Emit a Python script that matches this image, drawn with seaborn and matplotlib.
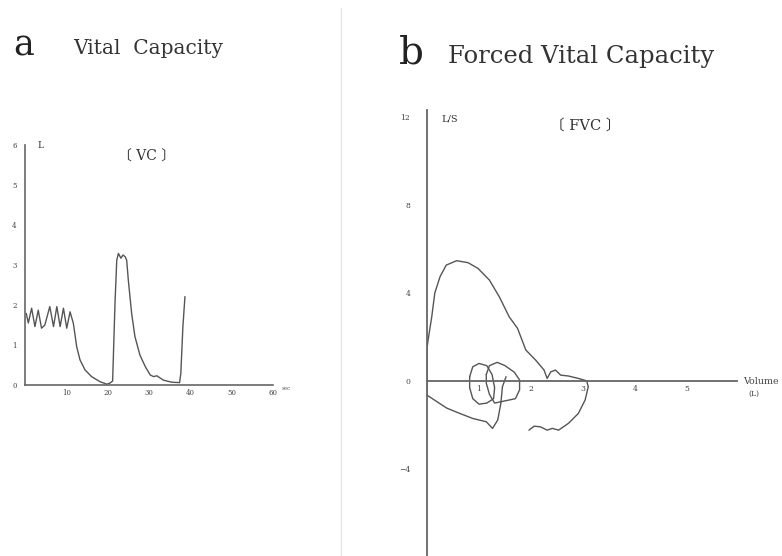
import pandas as pd
import matplotlib.pyplot as plt
import seaborn as sns
from matplotlib.lines import Line2D

sns.set_style("white")
plt.rcParams['font.family'] = ['DejaVu Serif', 'Noto Sans CJK JP']

# panel a: vital capacity trace (time in sec, volume in L)
vc_time = [0.3, 0.8, 1.6, 2.4, 3.2, 4.0, 4.8, 6.0, 6.9, 7.7, 8.5, 9.3, 10.1, 10.9,
           11.7, 12.5, 13.3, 14.5, 16.1, 18.2, 19.8, 20.6, 21.2, 21.5, 21.8, 22.2,
           22.6, 23.2, 23.7, 24.2, 24.6, 25.0, 25.8, 26.6, 27.8, 29.1, 30.3, 31.1,
           31.9, 33.5, 35.5, 37.4, 37.7, 38.2, 38.7]
vc_volume = [1.79, 1.55, 1.92, 1.46, 1.87, 1.42, 1.5, 1.96, 1.46, 1.96, 1.46, 1.92,
             1.42, 1.83, 1.54, 0.96, 0.63, 0.38, 0.21, 0.08, 0.02, 0.05, 0.1, 1.12,
             2.12, 3.12, 3.29, 3.17, 3.25, 3.21, 3.12, 2.62, 1.79, 1.21, 0.75, 0.46,
             0.25, 0.21, 0.23, 0.12, 0.07, 0.06, 0.29, 1.46, 2.21]

# panel b: flow-volume loop (volume in L, flow in L/S)
fvc_volume = [0, 0, 0, 0.03, 0.09, 0.15, 0.25, 0.37, 0.57, 0.79, 0.98, 1.2, 1.39, 1.58,
              1.74, 1.9, 2.09, 2.25, 2.31, 2.38, 2.47, 2.57, 2.72, 2.91, 3.07,
              3.1, 3.04, 2.91, 2.72, 2.53, 2.41, 2.31, 2.18, 2.06, 1.96]
fvc_flow = [-0.64, 0, 1.5, 2.0, 2.9, 4.0, 4.74, 5.27, 5.47, 5.38, 5.12, 4.59, 3.83, 2.92,
            2.4, 1.41, 0.95, 0.5, 0.12, 0.42, 0.5, 0.27, 0.23, 0.12, 0.01,
            -0.26, -0.86, -1.47, -1.92, -2.23, -2.15, -2.23, -2.08, -2.05, -2.23]
insp_volume = [0, 0.38, 0.63, 0.88, 1.14, 1.26, 1.36, 1.42, 1.45, 1.52]
insp_flow = [-0.64, -1.23, -1.47, -1.7, -1.85, -2.15, -1.77, -1.01, -0.26, 0.2]
tidal1_volume = [0.82, 0.88, 1.0, 1.15, 1.25, 1.3, 1.28, 1.15, 1.0, 0.88, 0.82, 0.82]
tidal1_flow = [0.2, 0.65, 0.8, 0.7, 0.3, -0.3, -0.8, -1.0, -1.05, -0.8, -0.3, 0.2]
tidal2_volume = [1.14, 1.2, 1.35, 1.5, 1.68, 1.78, 1.78, 1.7, 1.5, 1.3, 1.2, 1.14, 1.14]
tidal2_flow = [0.3, 0.7, 0.85, 0.7, 0.4, 0.05, -0.4, -0.8, -0.9, -1.0, -0.6, -0.1, 0.3]

line_col = "#555555"
axis_col = "#666666"

fig = plt.figure(figsize=(7.82, 5.56), dpi=100)

# ---- panel a
ax_a = fig.add_axes([25 / 782, 171 / 556, 248 / 782, 240 / 556])
sns.lineplot(x=vc_time, y=vc_volume, sort=False, estimator=None, ax=ax_a,
             color=line_col, lw=1.0)
ax_a.set_xlim(0, 60)
ax_a.set_ylim(0, 6)
sns.despine(ax=ax_a)
for s in ["left", "bottom"]:
    ax_a.spines[s].set_color(axis_col)
    ax_a.spines[s].set_linewidth(1.2)
ax_a.set_xticks([10, 20, 30, 40, 50, 60])
ax_a.set_yticks([0, 1, 2, 3, 4, 5, 6])
ax_a.tick_params(direction="in", length=3, width=0.8, colors=axis_col,
                 labelsize=5, labelcolor="#444444", pad=6)
ax_a.tick_params(axis="x", pad=3)
ax_a.text(3, 6, "L", fontsize=6.5, va="center", color="#333333")
ax_a.text(29.5, 5.72, "〔 VC 〕", fontsize=10, ha="center", va="center", color="#333333")
ax_a.text(62, -0.1, "sec", fontsize=4, va="center", color="#555555", clip_on=False)

# ---- panel b
ax_b = fig.add_axes([427 / 782, 0.0, 310 / 782, 0.8014])
for vol, flow in [(fvc_volume, fvc_flow), (insp_volume, insp_flow),
                  (tidal1_volume, tidal1_flow), (tidal2_volume, tidal2_flow)]:
    sns.lineplot(x=vol, y=flow, sort=False, estimator=None, ax=ax_b,
                 color=line_col, lw=1.0)
ax_b.set_xlim(0, 5.96)
ax_b.set_ylim(-7.95, 12.3)
sns.despine(ax=ax_b)
ax_b.spines["bottom"].set_position(("data", 0))
for s in ["left", "bottom"]:
    ax_b.spines[s].set_color(axis_col)
    ax_b.spines[s].set_linewidth(1.3)
ax_b.set_xticks([1, 2, 3, 4, 5, 5.95], ["1", "2", "3", "4", "5", ""])
ax_b.set_yticks([12, 8, 4, 0, -4], ["12", "8", "4", "0", "\u22124"])
ax_b.tick_params(direction="in", length=3, width=0.8, colors=axis_col,
                 labelsize=5.5, labelcolor="#444444", pad=12)
ax_b.tick_params(axis="x", pad=3)
ax_b.text(0.28, 11.9, "L/S", fontsize=7, va="center", color="#333333")
ax_b.text(3.05, 11.6, "〔 FVC 〕", fontsize=10.5, ha="center", va="center", color="#333333")
ax_b.text(6.08, 0.0, "Volume", fontsize=6.8, va="center", color="#444444", clip_on=False)
ax_b.text(6.18, -0.6, "(L)", fontsize=5.5, va="center", color="#444444", clip_on=False)

# ---- headings and separator
fig.text(13 / 782, 1 - 55 / 556, "a", fontsize=25, color="#222222", va="baseline")
fig.text(73 / 782, 1 - 54 / 556, "Vital  Capacity", fontsize=14.5, color="#333333",
         va="baseline")
fig.text(399 / 782, 1 - 64 / 556, "b", fontsize=28, color="#222222", va="baseline")
fig.text(448 / 782, 1 - 63 / 556, "Forced Vital Capacity", fontsize=17.5,
         color="#333333", va="baseline")
fig.add_artist(Line2D([341 / 782, 341 / 782], [0, 1 - 8 / 556],
                      transform=fig.transFigure, color="#e2e2e2", lw=0.8))

fig.savefig("out.png", dpi=100, facecolor="white")
